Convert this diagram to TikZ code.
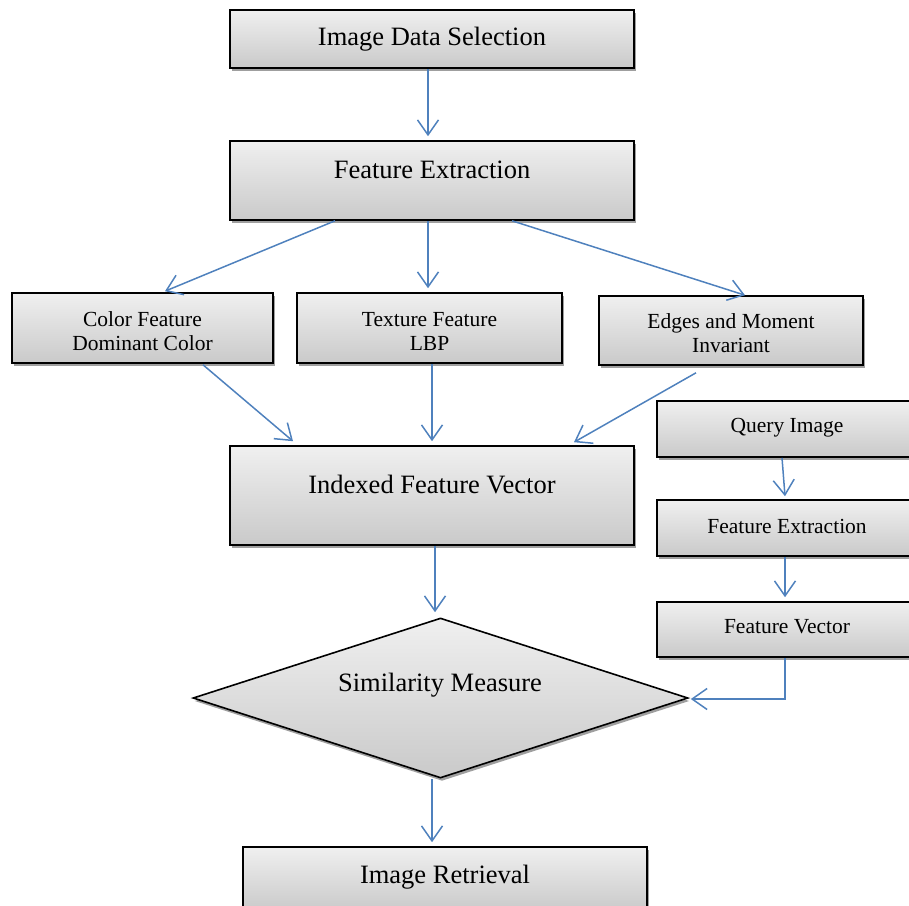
\documentclass[tikz,border=0pt]{standalone}
\usepackage{fontspec}
\setmainfont{Liberation Serif}
\usetikzlibrary{arrows.meta,shadows,shapes.geometric}
\definecolor{arrowblue}{HTML}{4F81BD}
\tikzset{
  box/.style={draw=black, line width=1.6pt, shading=axis, top color=gray!12, bottom color=gray!42,
    drop shadow={shadow xshift=1.5pt, shadow yshift=-3pt, fill=gray!75, opacity=1}, inner sep=0pt},
  bigtxt/.style={font=\fontsize{26.5}{30}\selectfont, inner sep=0pt},
  smalltxt/.style={font=\fontsize{21.5}{24}\selectfont, align=center, inner sep=0pt},
  arr/.style={draw=arrowblue, line width=1.5pt, -{Straight Barb[length=15pt,width=21pt,line width=1.5pt]}}
}
\begin{document}
\begin{tikzpicture}[x=1pt,y=-1pt]
\useasboundingbox (0,0) rectangle (909,905);
% boxes
\node[box, minimum width=404pt, minimum height=58pt] (ids) at (432,39) {};
\node[box, minimum width=404pt, minimum height=79pt] (fe) at (432,180.5) {};
\node[box, minimum width=261pt, minimum height=70pt] (cf) at (142.5,328) {};
\node[box, minimum width=265pt, minimum height=70pt] (tf) at (429.5,328) {};
\node[box, minimum width=264pt, minimum height=69pt] (em) at (731,330.5) {};
\node[box, minimum width=404pt, minimum height=99pt] (ifv) at (432,495.5) {};
\node[box, minimum width=260pt, minimum height=56pt] (qi) at (787,429) {};
\node[box, minimum width=260pt, minimum height=56pt] (fe2) at (787,528) {};
\node[box, minimum width=260pt, minimum height=55pt] (fv) at (787,629.5) {};
\node[box, shape=diamond, minimum width=495pt, minimum height=160pt] (sm) at (440.5,698) {};
\node[box, minimum width=404pt, minimum height=64pt] (ir) at (445,879) {};
% texts
\node[bigtxt] (idst) at (432,39) {Image Data Selection};
\node[bigtxt] (fet) at (432,170) {Feature Extraction};
\node[smalltxt] (cft) at (142.5,331) {Color Feature\\Dominant Color};
\node[smalltxt] (tft) at (429.5,331) {Texture Feature\\LBP};
\node[smalltxt] (emt) at (731,333) {Edges and Moment\\Invariant};
\node[bigtxt] (ifvt) at (432,484) {Indexed Feature Vector};
\node[smalltxt] (qit) at (787,428) {Query Image};
\node[smalltxt] (fe2t) at (787,526) {Feature Extraction};
\node[smalltxt] (fvt) at (787,627) {Feature Vector};
\node[bigtxt] (smt) at (440,685) {Similarity Measure};
\node[bigtxt] (irt) at (445,877) {Image Retrieval};
% arrows
\draw[arr] ([xshift=-4pt]ids.south) -- ([xshift=-4pt,yshift=4pt]fe.north);
\draw[arr] ([xshift=-97pt]fe.south) -- ([xshift=22.5pt,yshift=1pt]cf.north);
\draw[arr] ([xshift=-4pt]fe.south) -- ([xshift=-1.5pt,yshift=4pt]tf.north);
\draw[arr] ([xshift=80pt]fe.south) -- ([xshift=14pt]em.north);
\draw[arr] ([xshift=60.5pt,yshift=-1pt]cf.south) -- ([xshift=-139pt,yshift=4pt]ifv.north);
\draw[arr] ([xshift=2.5pt]tf.south) -- ([yshift=4pt]ifv.north);
\draw[arr] ([xshift=-35pt,yshift=-7pt]em.south) -- ([xshift=142pt,yshift=3pt]ifv.north);
\draw[arr] ([xshift=3pt]ifv.south) -- ([xshift=-5.5pt,yshift=5pt]sm.north);
\draw[arr] ([xshift=-5pt]qi.south) -- ([xshift=-2pt,yshift=3pt]fe2.north);
\draw[arr] ([xshift=-2pt]fe2.south) -- ([xshift=-2pt,yshift=4pt]fv.north);
\draw[arr] ([xshift=-2pt]fv.south) |- ([xshift=2pt,yshift=-1pt]sm.east);
\draw[arr] ([xshift=-8.5pt]sm.south) -- ([xshift=-13pt,yshift=4pt]ir.north);
\end{tikzpicture}
\end{document}
